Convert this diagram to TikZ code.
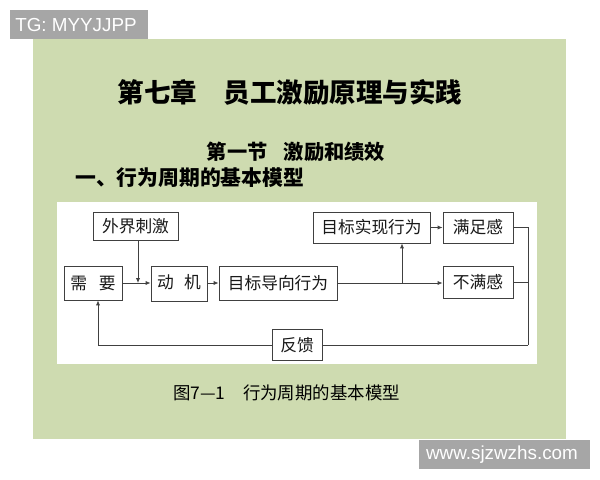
\documentclass[tikz,border=0pt]{standalone}
\usepackage{fontspec}
\setmainfont{Liberation Sans}
\newfontfamily\cjk{Noto Sans CJK SC}
\usetikzlibrary{arrows.meta}
\definecolor{panel}{RGB}{206,219,176}
\definecolor{wmgray}{RGB}{166,166,166}
\begin{document}
\begin{tikzpicture}[x=0.025cm,y=-0.025cm,
  box/.style={draw=black!75, line width=0.6pt, fill=white, inner sep=0pt,
    font=\cjk\fontsize{11.9}{13}\selectfont, text=black!90},
  conn/.style={draw=black!75, line width=0.6pt},
  arr/.style={conn, -{Latex[length=3.5pt,width=3pt]}},
  wm/.style={text=white, inner sep=0pt, font=\fontsize{13.4}{15}\selectfont}]
\useasboundingbox (0,0) rectangle (600,480);
\fill[white] (0,0) rectangle (600,480);
\fill[panel] (33,39) rectangle (566,439);
\fill[white] (57,202) rectangle (537,364);
% watermarks
\fill[wmgray] (10,10) rectangle (148,39);
\node[wm, anchor=west] (tg) at (15,25) {TG: MYYJJPP};
\fill[wmgray] (419,440) rectangle (590,469);
\node[wm] (www) at (502,455) {www.sjzwzhs.com};
% titles
\node[inner sep=0pt, font=\cjk\bfseries\fontsize{18.85}{20}\selectfont] (title) at (290,92) {第七章　员工激励原理与实践};
\node[inner sep=0pt, font=\cjk\bfseries\fontsize{14.4}{16}\selectfont] (sec) at (296,152) {第一节\hspace{0.8em}激励和绩效};
\node[inner sep=0pt, anchor=west, font=\cjk\bfseries\fontsize{14.8}{16}\selectfont] (head) at (75,178) {一、行为周期的基本模型};
\node[inner sep=0pt, anchor=west, font=\cjk\fontsize{12.4}{14}\selectfont] (cap) at (173,393) {图7—1　行为周期的基本模型};
% boxes
\node[box, minimum width=2.125cm, minimum height=0.7cm] (ext) at (135.5,226) {外界刺激};
\node[box, minimum width=1.45cm, minimum height=0.85cm] (need) at (93,283) {\raisebox{-0.1cm}{需\hspace{0.7em}要}};
\node[box, minimum width=1.4cm, minimum height=0.875cm] (mot) at (179,283.5) {\raisebox{0.08cm}{动\hspace{0.6em}机}};
\node[box, minimum width=2.95cm, minimum height=0.85cm] (goal) at (278,283) {目标导向行为};
\node[box, minimum width=2.925cm, minimum height=0.775cm] (real) at (371.5,227.5) {目标实现行为};
\node[box, minimum width=1.75cm, minimum height=0.775cm] (sat) at (478,227.5) {满足感};
\node[box, minimum width=1.75cm, minimum height=0.8cm] (dis) at (478,282) {不满感};
\node[box, minimum width=1.25cm, minimum height=0.775cm] (fb) at (297,345) {反馈};
% connectors
\coordinate (j1) at (138,283);
\coordinate (j2) at (402,283);
\coordinate (rt) at (528,345);
\coordinate (lb) at (98,345);
\draw[arr] (need.east |- j1) -- (mot.west |- j1);
\draw[arr] (ext.south -| j1) -- (j1);
\draw[arr] (mot.east |- j1) -- (goal.west |- j1);
\draw[arr] (goal.east |- j1) -- (dis.west |- j1);
\draw[arr] (j2) -- (j2 |- real.south);
\draw[arr] (real.east) -- (sat.west);
\draw[conn] (sat.east) -| (rt);
\draw[conn] (dis.east) -- (dis.east -| rt);
\draw[conn] (rt) -- (fb.east);
\draw[arr] (fb.west) -- (lb) -- (lb |- need.south);
\end{tikzpicture}
\end{document}
